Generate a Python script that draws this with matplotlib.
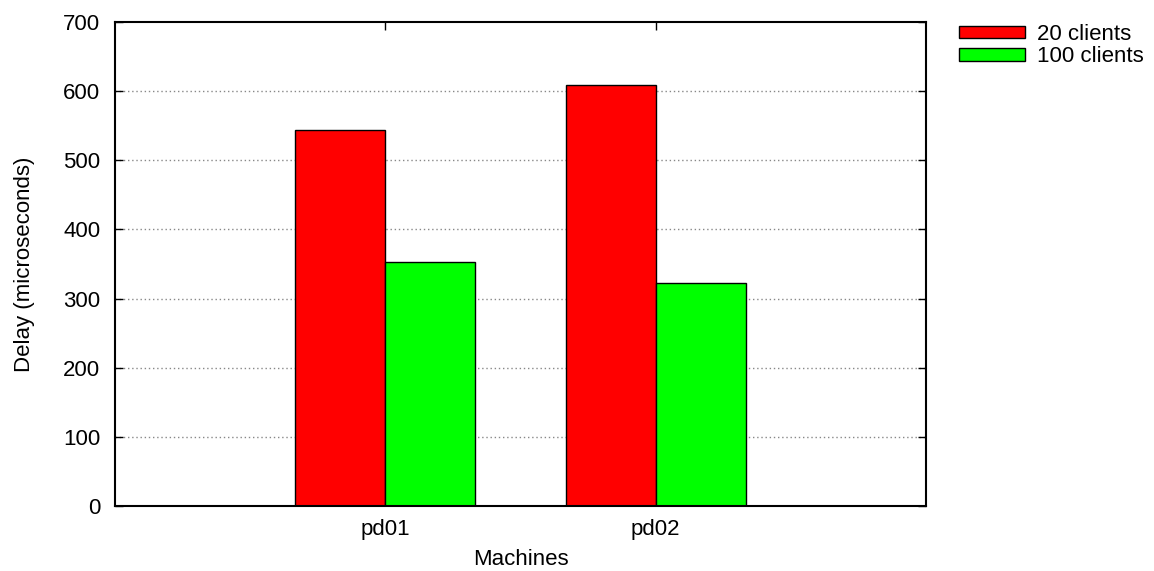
import matplotlib
matplotlib.use("Agg")
import matplotlib.pyplot as plt
import numpy as np

plt.rcParams['font.family'] = ['Liberation Sans', 'DejaVu Sans']

machines = ["pd01", "pd02"]
series_names = ["20 clients", "100 clients"]
clients20 = [544, 609]
clients100 = [353, 323]
colors = ["#ff0000", "#00ff00"]
yticks = [0, 100, 200, 300, 400, 500, 600, 700]

fs = 16
fig = plt.figure(figsize=(11.54, 5.71), dpi=100)
ax = fig.add_axes([115/1154, 1-506/571, (926-115)/1154, (506-22)/571])

x = np.arange(1, len(machines) + 1)
w = 1/3
ax.bar(x - w/2, clients20, width=w, color=colors[0], edgecolor="black", linewidth=1, label=series_names[0], zorder=3)
ax.bar(x + w/2, clients100, width=w, color=colors[1], edgecolor="black", linewidth=1, label=series_names[1], zorder=3)

ax.set_xlim(0, 3)
ax.set_ylim(0, 700)
ax.set_xticks(x)
ax.set_xticklabels(machines)
ax.set_yticks(yticks)
ax.tick_params(direction="in", top=True, right=True, length=6, width=1, labelsize=fs, colors="black")
ax.tick_params(axis="x", pad=9)
ax.tick_params(axis="y", pad=10.5)
for s in ax.spines.values():
    s.set_linewidth(1.5)
    s.set_zorder(4)
for yv in yticks[1:-1]:
    ax.axhline(yv, color="#888888", linestyle=(0, (1, 2)), linewidth=1, zorder=1)

ax.set_xlabel("Machines", fontsize=fs, labelpad=6.5)
ax.set_ylabel("Delay (microseconds)", fontsize=fs, labelpad=20)

ax.legend(loc="upper left", bbox_to_anchor=(959/1154, 1-24/571), bbox_transform=fig.transFigure,
          frameon=False, fontsize=fs, handlelength=2.95, handleheight=0.5, labelspacing=0.05,
          handletextpad=0.55, borderaxespad=0, borderpad=0)

fig.savefig("out.png", dpi=100)
